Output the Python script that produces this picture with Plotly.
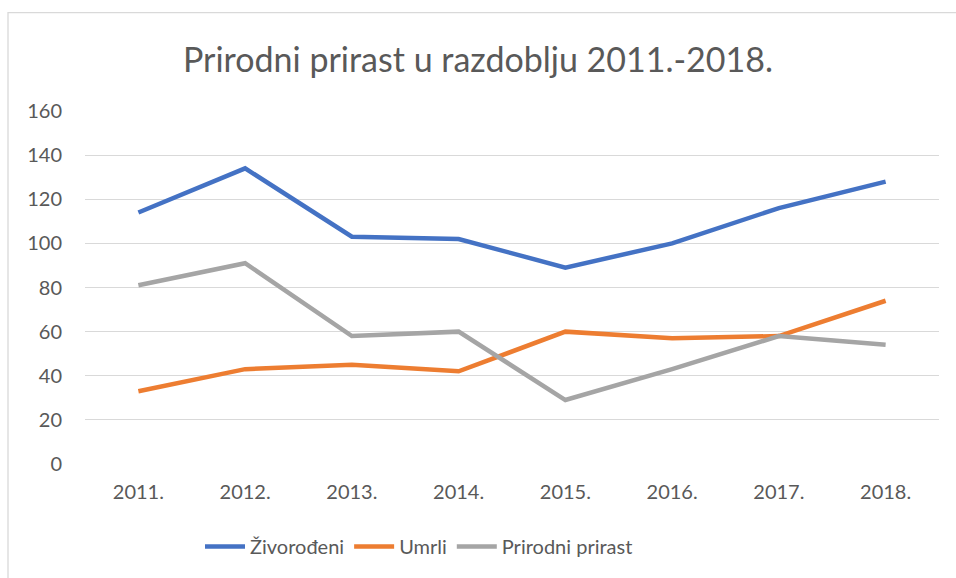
import plotly.graph_objects as go

# data
years = ["2011.", "2012.", "2013.", "2014.", "2015.", "2016.", "2017.", "2018."]
zivorodeni = [114, 134, 103, 102, 89, 100, 116, 128]
umrli = [33, 43, 45, 42, 60, 57, 58, 74]
prirodni_prirast = [81, 91, 58, 60, 29, 43, 58, 54]

series = [
    ("Živorođeni", zivorodeni, "#4472C4"),
    ("Umrli", umrli, "#ED7D31"),
    ("Prirodni prirast", prirodni_prirast, "#A5A5A5"),
]

fig = go.Figure()
for name, vals, color in series:
    fig.add_trace(go.Scatter(
        x=years, y=vals, name=name, mode="lines",
        line=dict(color=color, width=4.5),
    ))

# plot area in pixels: left 85, right 939, top 111, bottom 466
L, R, T, B = 85, 939, 111, 466
W, H = 956, 578

def px_x(p):
    return (p - L) / (R - L)

def px_y(p):
    return (B - p) / (B - T)

fig.update_layout(
    width=W, height=H,
    margin=dict(l=L, r=W - R, t=T, b=H - B),
    paper_bgcolor="white",
    plot_bgcolor="white",
    font=dict(family="Lato, 'Open Sans', sans-serif", color="#595959", size=20),
    title=dict(
        text="Prirodni prirast u razdoblju 2011.-2018.",
        x=0.5, xanchor="center",
        y=1 - 60 / H, yanchor="middle",
        font=dict(size=34, color="#595959"),
    ),
    xaxis=dict(
        type="category", range=[-0.5, 7.5],
        showgrid=False, zeroline=False, showline=False,
        ticks="", ticklabelstandoff=14,
        tickfont=dict(size=20),
        fixedrange=True,
    ),
    yaxis=dict(
        range=[0, 160], dtick=20,
        showgrid=True, gridcolor="#D9D9D9", gridwidth=1.3,
        zeroline=False, showline=False, ticks="",
        ticklabelstandoff=22,
        tickfont=dict(size=20),
        fixedrange=True,
    ),
    legend=dict(
        orientation="h",
        x=px_x(200), xanchor="left",
        y=px_y(549), yanchor="middle",
        font=dict(size=20, color="#595959"),
        itemwidth=40,
        tracegroupgap=0,
    ),
    shapes=[dict(
        type="rect", xref="paper", yref="paper",
        x0=px_x(8), x1=px_x(962), y0=px_y(584), y1=px_y(12),
        line=dict(color="#D9D9D9", width=1.3),
        layer="below",
    )],
    showlegend=True,
)

# the page body has a default 8px margin; drop it so the chart fills the window
fig.write_html(
    "out.html",
    config={"displayModeBar": False},
    post_script="document.body.style.margin='0';",
)
